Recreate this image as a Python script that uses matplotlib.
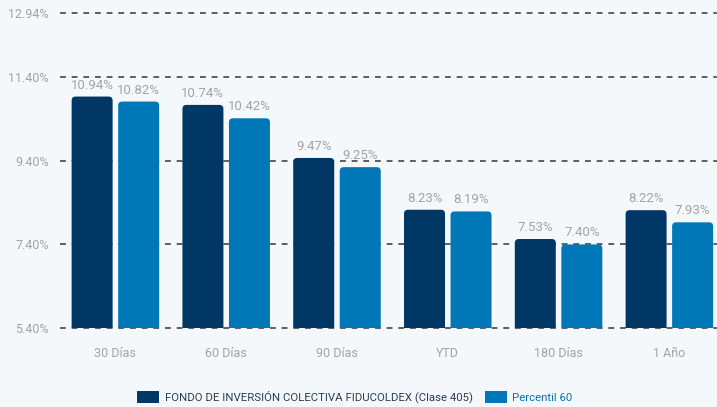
import matplotlib
matplotlib.use("Agg")
import matplotlib.pyplot as plt
from matplotlib.patches import FancyBboxPatch, Patch

categories = ["30 Días", "60 Días", "90 Días", "YTD", "180 Días", "1 Año"]
fondo = [10.94, 10.74, 9.47, 8.23, 7.53, 8.22]
percentil = [10.82, 10.42, 9.25, 8.19, 7.40, 7.93]
series_names = ["FONDO DE INVERSIÓN COLECTIVA FIDUCOLDEX (Clase 405)", "Percentil 60"]
yticks = [5.40, 7.40, 9.40, 11.40, 12.94]

c_dark = "#003764"
c_blue = "#0077b6"
bg = "#f5f8fa"
gray = "#a3a3a3"

plt.rcParams['font.family'] = ['Roboto', 'DejaVu Sans']

W, H = 717, 407
fig = plt.figure(figsize=(W/100, H/100), dpi=100, facecolor=bg)
ax = fig.add_axes([60/W, 79/H, (W-60)/W, 315/H], facecolor=bg)

ymin, ymax = yticks[0], yticks[-1]
ax.set_ylim(ymin, ymax)
ax.set_xlim(-0.5, 5.43)

bw = 0.37
off = 0.21
x = list(range(len(categories)))
b1 = ax.bar([i - off for i in x], [v - ymin for v in fondo], bw, bottom=ymin, color=c_dark, zorder=3)
b2 = ax.bar([i + off for i in x], [v - ymin for v in percentil], bw, bottom=ymin, color=c_blue, zorder=3)

# convert bars to rounded-top bars (bottom corners hidden below the axis edge)
fig.canvas.draw()
bbox = ax.get_window_extent()
px_x = (ax.get_xlim()[1] - ax.get_xlim()[0]) / bbox.width
px_y = (ymax - ymin) / bbox.height
r_px = 4
ext = 10 * px_y
for bars, col in ((b1, c_dark), (b2, c_blue)):
    for rect in bars:
        x0, y0 = rect.get_x(), rect.get_y()
        w, h = rect.get_width(), rect.get_height()
        rect.set_visible(False)
        p = FancyBboxPatch((x0, y0 - ext), w, h + ext,
                           boxstyle=f"round,pad=0,rounding_size={r_px*px_x}",
                           mutation_aspect=px_y/px_x, facecolor=col, edgecolor="none",
                           zorder=3, clip_on=True)
        ax.add_patch(p)

for i in x:
    ax.text(i - off, fondo[i] + 0.12, f"{fondo[i]:.2f}%", ha="center", va="bottom", color=gray, fontsize=9.5, zorder=4)
    ax.text(i + off, percentil[i] + 0.12, f"{percentil[i]:.2f}%", ha="center", va="bottom", color=gray, fontsize=9.5, zorder=4)

ax.set_yticks(yticks)
ax.set_yticklabels([f"{v:.2f}%" for v in yticks], color=gray, fontsize=9)
ax.set_xticks(x)
ax.set_xticklabels(categories, color=gray, fontsize=9)
ax.tick_params(axis="both", length=0)
ax.tick_params(axis="y", pad=8)
ax.tick_params(axis="x", pad=14)
for s in ax.spines.values():
    s.set_visible(False)
for v in yticks:
    ax.axhline(v, color="#444444", lw=1.2, ls=(0, (3.5, 3.5)), zorder=1, clip_on=False)

handles = [Patch(facecolor=c_dark, edgecolor="none"), Patch(facecolor=c_blue, edgecolor="none")]
leg = fig.legend(handles, series_names, loc="center", bbox_to_anchor=(355/W, 1 - 397/H),
                 ncol=2, frameon=False, fontsize=8.2, handlelength=1.9, handleheight=1.3,
                 handletextpad=0.5, columnspacing=1.1)
texts = leg.get_texts()
texts[0].set_color("#2b3e52")
texts[1].set_color(c_blue)

fig.savefig("out.png", dpi=100, facecolor=bg)
